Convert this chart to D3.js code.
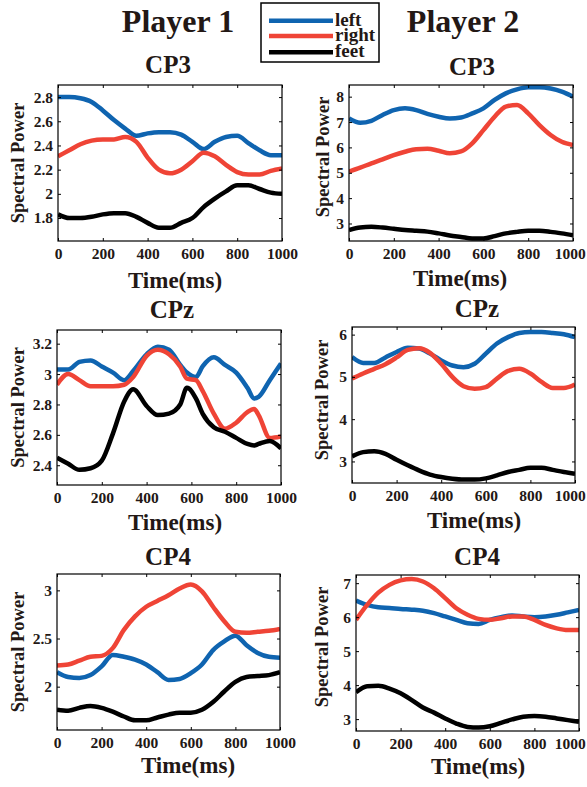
<!DOCTYPE html>
<html>
<head>
<meta charset="utf-8">
<script src="https://cdn.jsdelivr.net/npm/d3@7/dist/d3.min.js"></script>
<style>
  html, body { margin: 0; padding: 0; background: #fff; }
  svg { display: block; }
  text { font-family: "Liberation Serif", "Times New Roman", serif; font-weight: bold; fill: #231815; }
</style>
</head>
<body>
<svg id="chart" width="587" height="787"></svg>
<script>
// ---------------- data ----------------
const seriesNames = ["left", "right", "feet"];
const seriesColors = ["#0f64b0", "#ef4436", "#000000"];
const playerTitles = ["Player 1", "Player 2"];
const channelTitles = ["CP3", "CPz", "CP4"];
const xLabel = "Time(ms)";
const yLabel = "Spectral Power";
const xTicks = [0, 200, 400, 600, 800, 1000];

const time = [0, 50, 100, 150, 200, 250, 300, 350, 400, 450, 500, 550, 600, 650, 700, 750, 800, 850, 900, 950, 1000];
const timeCPz1 = [0, 50, 100, 150, 200, 250, 300, 340, 400, 450, 500, 550, 580, 620, 650, 700, 750, 800, 850, 880, 900, 950, 1000];

// Player 1, CP3
const p1cp3Left  = [2.80, 2.80, 2.79, 2.76, 2.69, 2.61, 2.54, 2.48, 2.50, 2.51, 2.51, 2.49, 2.43, 2.37, 2.43, 2.47, 2.48, 2.42, 2.36, 2.32, 2.32];
const p1cp3Right = [2.31, 2.36, 2.41, 2.44, 2.45, 2.45, 2.47, 2.43, 2.30, 2.20, 2.17, 2.20, 2.27, 2.34, 2.31, 2.24, 2.18, 2.16, 2.16, 2.19, 2.21];
const p1cp3Feet  = [1.83, 1.80, 1.80, 1.81, 1.83, 1.84, 1.84, 1.81, 1.76, 1.72, 1.72, 1.76, 1.80, 1.89, 1.96, 2.02, 2.07, 2.07, 2.04, 2.01, 2.00];
const p1cp3Ticks = [1.8, 2, 2.2, 2.4, 2.6, 2.8];
const p1cp3Domain = [1.61, 2.90];

// Player 2, CP3
const p2cp3Left  = [7.14, 6.97, 7.05, 7.28, 7.47, 7.54, 7.47, 7.32, 7.21, 7.14, 7.18, 7.34, 7.54, 7.87, 8.13, 8.29, 8.37, 8.37, 8.32, 8.20, 8.00];
const p2cp3Right = [5.04, 5.20, 5.37, 5.53, 5.70, 5.83, 5.93, 5.95, 5.87, 5.77, 5.84, 6.16, 6.68, 7.21, 7.61, 7.67, 7.34, 6.88, 6.49, 6.22, 6.09];
const p2cp3Feet  = [2.74, 2.84, 2.87, 2.84, 2.79, 2.74, 2.71, 2.68, 2.61, 2.53, 2.47, 2.41, 2.41, 2.50, 2.61, 2.67, 2.71, 2.71, 2.67, 2.61, 2.54];
const p2cp3Ticks = [3, 4, 5, 6, 7, 8];
const p2cp3Domain = [2.31, 8.46];

// Player 1, CPz (own time grid)
const p1cpzLeft  = [3.03, 3.03, 3.08, 3.09, 3.05, 3.01, 2.96, 3.02, 3.13, 3.18, 3.16, 3.06, 3.01, 2.98, 3.05, 3.11, 3.06, 3.01, 2.91, 2.84, 2.85, 2.96, 3.07];
const p1cpzRight = [2.93, 3.00, 2.96, 2.92, 2.92, 2.92, 2.93, 2.98, 3.12, 3.16, 3.13, 3.05, 2.97, 2.96, 2.89, 2.74, 2.64, 2.68, 2.75, 2.77, 2.73, 2.58, 2.59];
const p1cpzFeet  = [2.45, 2.41, 2.37, 2.38, 2.43, 2.61, 2.82, 2.90, 2.79, 2.73, 2.74, 2.80, 2.91, 2.84, 2.74, 2.65, 2.62, 2.58, 2.54, 2.53, 2.54, 2.56, 2.51];
const p1cpzTicks = [2.4, 2.6, 2.8, 3, 3.2];
const p1cpzDomain = [2.27, 3.29];

// Player 2, CPz
const p2cpzLeft  = [5.47, 5.33, 5.33, 5.46, 5.59, 5.69, 5.67, 5.55, 5.39, 5.27, 5.23, 5.31, 5.55, 5.79, 5.94, 6.04, 6.06, 6.06, 6.04, 6.01, 5.94];
const p2cpzRight = [4.96, 5.08, 5.19, 5.30, 5.46, 5.64, 5.68, 5.57, 5.31, 5.00, 4.78, 4.72, 4.76, 4.96, 5.14, 5.19, 5.08, 4.88, 4.74, 4.74, 4.82];
const p2cpzFeet  = [3.12, 3.22, 3.24, 3.18, 3.04, 2.91, 2.79, 2.69, 2.63, 2.59, 2.57, 2.57, 2.60, 2.67, 2.75, 2.80, 2.85, 2.85, 2.80, 2.75, 2.71];
const p2cpzTicks = [3, 4, 5, 6];
const p2cpzDomain = [2.49, 6.18];

// Player 1, CP4
const p1cp4Left  = [2.15, 2.10, 2.09, 2.12, 2.21, 2.33, 2.31, 2.28, 2.23, 2.15, 2.07, 2.08, 2.14, 2.23, 2.38, 2.47, 2.53, 2.43, 2.35, 2.31, 2.30];
const p1cp4Right = [2.22, 2.23, 2.27, 2.31, 2.32, 2.40, 2.59, 2.73, 2.83, 2.89, 2.95, 3.02, 3.06, 2.99, 2.83, 2.68, 2.57, 2.56, 2.57, 2.58, 2.60];
const p1cp4Feet  = [1.76, 1.75, 1.78, 1.80, 1.78, 1.74, 1.69, 1.65, 1.65, 1.68, 1.71, 1.73, 1.73, 1.76, 1.84, 1.95, 2.05, 2.10, 2.11, 2.12, 2.15];
const p1cp4Ticks = [2, 2.5, 3];
const p1cp4Domain = [1.55, 3.17];

// Player 2, CP4
const p2cp4Left  = [6.49, 6.36, 6.29, 6.27, 6.24, 6.22, 6.19, 6.12, 6.02, 5.92, 5.82, 5.80, 5.92, 6.00, 6.05, 6.02, 6.00, 6.02, 6.07, 6.14, 6.21];
const p2cp4Right = [5.92, 6.36, 6.72, 6.95, 7.08, 7.12, 7.05, 6.85, 6.56, 6.26, 6.07, 5.95, 5.92, 5.97, 6.02, 6.02, 5.92, 5.77, 5.67, 5.62, 5.62];
const p2cp4Feet  = [3.79, 3.97, 3.98, 3.90, 3.76, 3.56, 3.34, 3.19, 3.02, 2.87, 2.77, 2.75, 2.79, 2.89, 2.99, 3.07, 3.09, 3.07, 3.02, 2.97, 2.92];
const p2cp4Ticks = [3, 4, 5, 6, 7];
const p2cp4Domain = [2.65, 7.24];

// ---------------- layout ----------------
const panels = [
  { title: channelTitles[0], t: time,     s: [p1cp3Left, p1cp3Right, p1cp3Feet], ticks: p1cp3Ticks, dom: p1cp3Domain,
    box: [58, 85, 282, 241], titleXY: [168, 73], xlabXY: [175, 288], ylabX: 18 },
  { title: channelTitles[0], t: time,     s: [p2cp3Left, p2cp3Right, p2cp3Feet], ticks: p2cp3Ticks, dom: p2cp3Domain,
    box: [349, 85, 573, 241], titleXY: [472, 75], xlabXY: [460, 286], ylabX: 323, ylabDy: -6 },
  { title: channelTitles[1], t: timeCPz1, s: [p1cpzLeft, p1cpzRight, p1cpzFeet], ticks: p1cpzTicks, dom: p1cpzDomain,
    box: [57, 330, 281, 485], titleXY: [172, 318], xlabXY: [175, 530], ylabX: 18 },
  { title: channelTitles[1], t: time,     s: [p2cpzLeft, p2cpzRight, p2cpzFeet], ticks: p2cpzTicks, dom: p2cpzDomain,
    box: [352, 327, 575, 483], titleXY: [477, 317], xlabXY: [474, 528], ylabX: 322, ylabDy: -5 },
  { title: channelTitles[2], t: time,     s: [p1cp4Left, p1cp4Right, p1cp4Feet], ticks: p1cp4Ticks, dom: p1cp4Domain,
    box: [57, 574, 280, 730], titleXY: [168, 565], xlabXY: [188, 773], ylabX: 18 },
  { title: channelTitles[2], t: time,     s: [p2cp4Left, p2cp4Right, p2cp4Feet], ticks: p2cp4Ticks, dom: p2cp4Domain,
    box: [356, 575, 579, 731], titleXY: [477, 565], xlabXY: [478, 774], ylabX: 322, ylabDy: -6 }
];

const svg = d3.select("#chart");
const ink = "#231815";
const W = 587;

// player titles
svg.append("text").attr("x", 178).attr("y", 32).attr("text-anchor", "middle")
  .style("font-size", "32px").text(playerTitles[0]);
svg.append("text").attr("x", 463).attr("y", 32).attr("text-anchor", "middle")
  .style("font-size", "32px").text(playerTitles[1]);

panels.forEach(p => {
  const [x0, y0, x1, y1] = p.box;
  const x = d3.scaleLinear().domain([0, 1000]).range([x0, x1]);
  const y = d3.scaleLinear().domain(p.dom).range([y1, y0]);
  const g = svg.append("g");

  const cid = "clip" + Math.round(x0) + "_" + Math.round(y0);
  svg.append("clipPath").attr("id", cid).append("rect")
    .attr("x", x0).attr("y", y0).attr("width", x1 - x0).attr("height", y1 - y0);

  const line = d3.line().x((d, i) => x(p.t[i])).y(d => y(d)).curve(d3.curveMonotoneX);
  const lg = g.append("g").attr("clip-path", `url(#${cid})`);
  p.s.forEach((vals, k) => {
    lg.append("path").datum(vals).attr("d", line)
      .attr("fill", "none").attr("stroke", seriesColors[k])
      .attr("stroke-width", 4.5).attr("stroke-linejoin", "round").attr("stroke-linecap", "butt");
  });

  const xAxis = d3.axisBottom(x).tickValues(xTicks).tickSize(-3).tickPadding(7).tickFormat(d3.format("d"));
  const yAxis = d3.axisLeft(y).tickValues(p.ticks).tickSize(-3).tickPadding(5).tickFormat(d => String(d));
  g.append("g").attr("transform", `translate(0,${y1})`).call(xAxis);
  g.append("g").attr("transform", `translate(${x0},0)`).call(yAxis);
  g.append("g").attr("transform", `translate(0,${y0})`).call(d3.axisTop(x).tickValues(xTicks).tickSize(-3).tickFormat(""));
  g.append("g").attr("transform", `translate(${x1},0)`).call(d3.axisRight(y).tickValues(p.ticks).tickSize(-3).tickFormat(""));
  g.selectAll(".domain").remove();
  g.selectAll(".tick line").attr("stroke", "#000").attr("stroke-width", 1);
  g.selectAll(".tick text").style("font-size", "15.5px").style("font-family", '"Liberation Serif", serif')
    .style("font-weight", "bold").attr("fill", ink);

  g.append("rect").attr("x", x0).attr("y", y0).attr("width", x1 - x0).attr("height", y1 - y0)
    .attr("fill", "none").attr("stroke", "#000").attr("stroke-width", 1.2);

  svg.append("text").attr("x", p.titleXY[0]).attr("y", p.titleXY[1]).attr("text-anchor", "middle")
    .style("font-size", "25px").text(p.title);
  svg.append("text").attr("x", p.xlabXY[0]).attr("y", p.xlabXY[1]).attr("text-anchor", "middle")
    .style("font-size", "23px").text(xLabel);
  const cy = (y0 + y1) / 2 + (p.ylabDy || 0);
  svg.append("text").attr("transform", `translate(${p.ylabX + 6},${cy}) rotate(-90)`)
    .attr("text-anchor", "middle").style("font-size", "18.5px").text(yLabel);
});

// keep tick labels inside the window
svg.selectAll(".tick text").each(function () {
  const b = this.getBBox();
  const m = this.parentNode.transform.baseVal.consolidate();
  const tx = m ? m.matrix.e : 0;
  const right = tx + b.x + b.width;
  if (right > W - 1) d3.select(this).attr("dx", (W - 1 - right) + "px");
});

// legend
const lgd = svg.append("g");
lgd.append("rect").attr("x", 261).attr("y", 3).attr("width", 118).attr("height", 59)
  .attr("fill", "#fff").attr("stroke", "#000").attr("stroke-width", 1.5);
const legendRowY = [20.7, 36, 52.3];
seriesNames.forEach((n, k) => {
  lgd.append("line").attr("x1", 269).attr("x2", 333).attr("y1", legendRowY[k]).attr("y2", legendRowY[k])
    .attr("stroke", seriesColors[k]).attr("stroke-width", 4.5);
  lgd.append("text").attr("x", 335).attr("y", legendRowY[k] + 5).style("font-size", "19px").text(n);
});
</script>
</body>
</html>
